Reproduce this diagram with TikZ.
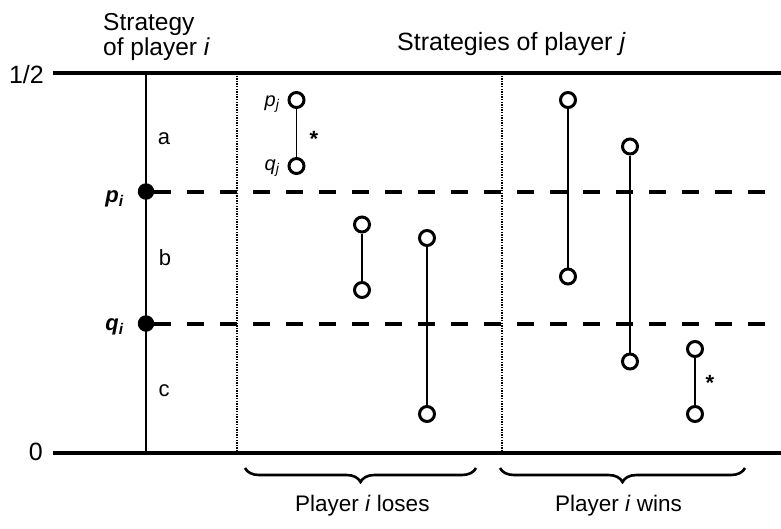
\documentclass[tikz,border=0pt]{standalone}
\usepackage{fontspec}
\setmainfont{Liberation Sans}
\usetikzlibrary{decorations.pathreplacing}
\pgfdeclarelayer{bg}
\pgfsetlayers{bg,main}
\begin{document}
\begin{tikzpicture}[x=1pt,y=-1pt,
  txt/.style={inner sep=0pt,font=\fontsize{24.5}{29}\selectfont},
  head/.style={inner sep=0pt,font=\fontsize{25}{29}\selectfont},
  bot/.style={inner sep=0pt,font=\fontsize{22.5}{27}\selectfont},
  lbl/.style={inner sep=0pt,font=\fontsize{22}{26}\selectfont},
  sml/.style={inner sep=0pt,font=\fontsize{20}{24}\selectfont},
  open/.style={circle,draw,line width=3pt,minimum size=15pt,inner sep=0pt,fill=white},
  full/.style={circle,fill,minimum size=16.5pt,inner sep=0pt},
  axis/.style={line width=4pt},
  cut/.style={line width=4pt,dash pattern=on 16.5pt off 16.5pt},
  sep/.style={line width=1.6pt,dash pattern=on 1.3pt off 1.3pt},
  link/.style={line width=1.8pt},
  brc/.style={decorate,decoration={brace,amplitude=14pt,mirror},line width=2.6pt}]
\useasboundingbox (0,0) rectangle (781,528);

% coordinates of axes
\coordinate (topL) at (53,73);
\coordinate (topR) at (781,73);
\coordinate (botL) at (53,453);
\coordinate (botR) at (781,453);
\coordinate (siT) at (146,73);
\coordinate (siB) at (146,453);
\coordinate (d1T) at (237,73);
\coordinate (d1B) at (237,453);
\coordinate (d2T) at (502,73);
\coordinate (d2B) at (502,453);
\coordinate (pE) at (766,191.5);
\coordinate (qE) at (766,323.5);

% player i strategy points
\node[full] (pi) at (146,191.5) {};
\node[full] (qi) at (146,323.5) {};

% player j strategies
\node[open] (pj) at (296.5,100) {};
\node[open] (qj) at (296.5,166) {};
\node[open] (b1t) at (362,224.5) {};
\node[open] (b1b) at (362,290) {};
\node[open] (b2t) at (427,238) {};
\node[open] (b2b) at (427,414) {};
\node[open] (w1t) at (568,100) {};
\node[open] (w1b) at (568,276.5) {};
\node[open] (w2t) at (630,146.5) {};
\node[open] (w2b) at (630,361.5) {};
\node[open] (w3t) at (695,349) {};
\node[open] (w3b) at (695,414) {};

\begin{pgfonlayer}{bg}
  \draw[axis] (topL) -- (topR);
  \draw[axis] (botL) -- (botR);
  \draw[line width=1.5pt] (siT) -- (siB);
  \draw[sep] (d1T) -- (d1B);
  \draw[sep] (d2T) -- (d2B);
  \draw[cut] (pi.east) -- (pE);
  \draw[cut] (qi.east) -- (qE);
\end{pgfonlayer}

\draw[link] (pj) -- (qj);
\draw[link] (b1t) -- (b1b);
\draw[link] (b2t) -- (b2b);
\draw[link] (w1t) -- (w1b);
\draw[link] (w2t) -- (w2b);
\draw[link] (w3t) -- (w3b);

% labels
\node[head,anchor=base east] (half) at (44,83) {1/2};
\node[head,anchor=base east] (zero) at (43,460) {0};
\node[txt,anchor=base west] (h1) at (103,30) {Strategy};
\node[txt,anchor=base west] (h2) at (103,55) {of player \textit{i}};
\node[head,anchor=base west] (h3) at (397,50) {Strategies of player \textit{j}};
\node[lbl,anchor=base] (la) at (164,144) {a};
\node[lbl,anchor=base] (lb) at (165,265) {b};
\node[lbl,anchor=base] (lc) at (164,396) {c};
\node[lbl,anchor=base east] (lpi) at (124,202) {\textbf{\textit{p}}\textsubscript{\textbf{\textit{i}}}};
\node[lbl,anchor=base east] (lqi) at (124,330) {\textbf{\textit{q}}\textsubscript{\textbf{\textit{i}}}};
\node[sml,anchor=base east] (lpj) at (280,106) {\textit{p}\textsubscript{\textit{j}}};
\node[sml,anchor=base east] (lqj) at (280,170) {\textit{q}\textsubscript{\textit{j}}};
\node[sml,anchor=base,font=\fontsize{22}{26}\selectfont\bfseries] (s1) at (314,146) {*};
\node[sml,anchor=base,font=\fontsize{22}{26}\selectfont\bfseries] (s2) at (710,390) {*};

% braces
\coordinate (bl1) at (245,468);
\coordinate (bl2) at (476,468);
\coordinate (br1) at (500,468);
\coordinate (br2) at (745,468);
\draw[brc] (bl1) -- (bl2);
\draw[brc] (br1) -- (br2);
\node[bot,anchor=base west] (lose) at (295,511) {Player \textit{i} loses};
\node[bot,anchor=base west] (win) at (555,511) {Player \textit{i} wins};
\end{tikzpicture}
\end{document}
